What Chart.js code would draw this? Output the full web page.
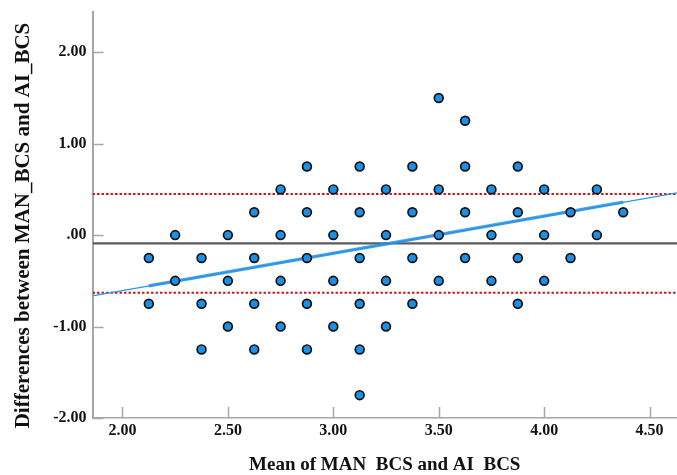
<!DOCTYPE html>
<html>
<head>
<meta charset="utf-8">
<script src="https://cdn.jsdelivr.net/npm/chart.js@4/dist/chart.umd.min.js"></script>
<style>
  html, body { margin: 0; padding: 0; background: #fff; overflow: hidden; }
  #baChart { display: block; }
</style>
</head>
<body>
<canvas id="baChart" width="677" height="475"></canvas>
<script>
  // Pontos: média (x) e diferença (y)
  const meanValues = [
    2.125, 2.125,
    2.25, 2.25,
    2.375, 2.375, 2.375,
    2.5, 2.5, 2.5,
    2.625, 2.625, 2.625, 2.625,
    2.75, 2.75, 2.75, 2.75,
    2.875, 2.875, 2.875, 2.875, 2.875,
    3.0, 3.0, 3.0, 3.0,
    3.125, 3.125, 3.125, 3.125, 3.125, 3.125,
    3.25, 3.25, 3.25, 3.25,
    3.375, 3.375, 3.375, 3.375,
    3.5, 3.5, 3.5, 3.5,
    3.625, 3.625, 3.625, 3.625,
    3.75, 3.75, 3.75,
    3.875, 3.875, 3.875, 3.875,
    4.0, 4.0, 4.0,
    4.125, 4.125,
    4.25, 4.25,
    4.375
  ];
  const diffValues = [
    -0.25, -0.75,
    0, -0.5,
    -0.25, -0.75, -1.25,
    0, -0.5, -1.0,
    0.25, -0.25, -0.75, -1.25,
    0.5, 0, -0.5, -1.0,
    0.75, 0.25, -0.25, -0.75, -1.25,
    0.5, 0, -0.5, -1.0,
    0.75, 0.25, -0.25, -0.75, -1.25, -1.75,
    0.5, 0, -0.5, -1.0,
    0.75, 0.25, -0.25, -0.75,
    1.5, 0.5, 0, -0.5,
    1.25, 0.75, 0.25, -0.25,
    0.5, 0, -0.5,
    0.75, 0.25, -0.25, -0.75,
    0.5, 0, -0.5,
    0.25, -0.25,
    0.5, 0,
    0.25
  ];

  // Linhas de referência
  const meanDiff = -0.09;
  const upperLimit = 0.45;
  const lowerLimit = -0.63;

  // Reta de regressão (extremos)
  const regX = [1.858, 4.63];
  const regY = [-0.665, 0.463];
  const regBandX = [2.125, 4.375];
  const regBandY = [-0.555, 0.361];

  // Eixos
  const xMin = 1.858, xMax = 4.63;
  const yMin = -2.0, yMax = 2.44;
  const xTicks = [2.0, 2.5, 3.0, 3.5, 4.0, 4.5];
  const yTicks = [-2.0, -1.0, 0, 1.0, 2.0];

  const points = meanValues.map((x, i) => ({ x: x, y: diffValues[i] }));
  const hLine = v => [{ x: xMin, y: v }, { x: xMax, y: v }];
  const pairLine = (xs, ys) => xs.map((x, i) => ({ x: x, y: ys[i] }));

  const fmtTick = v => (v === 0 ? '.00' : v.toFixed(2));
  const serif = 'Liberation Serif';
  const axisGray = '#a6a6a6';

  // Marcas dos eixos voltadas para dentro
  const innerTicks = {
    id: 'innerTicks',
    afterDraw(chart) {
      const { ctx, chartArea, scales } = chart;
      ctx.save();
      ctx.strokeStyle = axisGray;
      ctx.lineWidth = 1.5;
      ctx.beginPath();
      xTicks.forEach(t => {
        const px = Math.round(scales.x.getPixelForValue(t)) + 0.5;
        ctx.moveTo(px, chartArea.bottom);
        ctx.lineTo(px, chartArea.bottom - 11);
      });
      yTicks.forEach(t => {
        const py = Math.round(scales.y.getPixelForValue(t)) + 0.5;
        ctx.moveTo(chartArea.left, py);
        ctx.lineTo(chartArea.left + 11, py);
      });
      ctx.stroke();
      ctx.restore();
    }
  };

  const baData = {
    datasets: [
      {
        type: 'line',
        data: hLine(upperLimit),
        borderColor: '#c8191e',
        borderWidth: 2,
        borderDash: [2.5, 2],
        pointRadius: 0,
        order: 5
      },
      {
        type: 'line',
        data: hLine(lowerLimit),
        borderColor: '#c8191e',
        borderWidth: 2,
        borderDash: [2.5, 2],
        pointRadius: 0,
        order: 5
      },
      {
        type: 'line',
        data: hLine(meanDiff),
        borderColor: '#5a5a5a',
        borderWidth: 2.2,
        pointRadius: 0,
        order: 4
      },
      {
        type: 'line',
        data: pairLine(regX, regY),
        borderColor: '#2b96e8',
        borderWidth: 1.3,
        pointRadius: 0,
        order: 3
      },
      {
        type: 'line',
        data: pairLine(regBandX, regBandY),
        borderColor: 'rgba(40, 145, 230, 0.85)',
        borderWidth: 3.2,
        pointRadius: 0,
        order: 2
      },
      {
        type: 'scatter',
        data: points,
        backgroundColor: '#1a90e6',
        borderColor: '#111',
        borderWidth: 1.7,
        pointRadius: 4.4,
        order: 1
      }
    ]
  };

  const baConfig = {
    type: 'scatter',
    data: baData,
    options: {
      responsive: false,
      animation: false,
      layout: { autoPadding: false, padding: { top: 12, right: 0, left: 11, bottom: -1 } },
      plugins: {
        legend: { display: false },
        tooltip: { enabled: false }
      },
      scales: {
        x: {
          type: 'linear',
          min: xMin,
          max: xMax,
          afterBuildTicks: s => { s.ticks = xTicks.map(v => ({ value: v })); },
          afterFit: s => { s.paddingRight = 0; },
          grid: { display: true, drawOnChartArea: false, drawTicks: false },
          border: { color: axisGray, width: 1.5 },
          ticks: {
            padding: 3,
            color: '#111',
            font: { family: serif, size: 16, weight: 'bold' },
            callback: v => fmtTick(v)
          },
          title: {
            display: true,
            text: 'Mean of MAN  BCS and AI  BCS',
            color: '#111',
            font: { family: serif, size: 19, weight: 'bold' },
            padding: { top: 10, bottom: 0 }
          }
        },
        y: {
          type: 'linear',
          min: yMin,
          max: yMax,
          afterBuildTicks: s => { s.ticks = yTicks.map(v => ({ value: v })); },
          afterFit: s => { s.paddingTop = 0; },
          grid: { display: true, drawOnChartArea: false, drawTicks: false },
          border: { color: axisGray, width: 2 },
          ticks: {
            padding: 6,
            color: '#111',
            font: { family: serif, size: 16, weight: 'bold' },
            callback: v => fmtTick(v)
          },
          title: {
            display: true,
            text: 'Differences between MAN_BCS and AI_BCS    ',
            color: '#111',
            font: { family: serif, size: 21, weight: 'bold' },
            padding: { top: 0, bottom: 11 }
          }
        }
      }
    },
    plugins: [innerTicks]
  };

  const baCanvas = document.getElementById('baChart');
  new Chart(baCanvas, baConfig);
</script>
</body>
</html>
